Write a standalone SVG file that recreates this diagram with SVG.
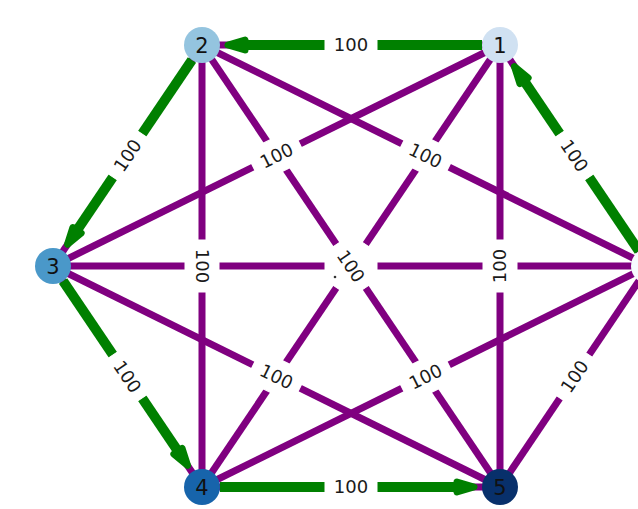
<svg xmlns="http://www.w3.org/2000/svg" width="638" height="509" viewBox="0 0 638 509">
<style>
.p{stroke:#800080;stroke-width:7;fill:none}
.g{stroke:#008000;stroke-width:10;fill:none;marker-end:url(#ah)}
.lb rect{fill:#fff;stroke:#fff}
.lb text{font-family:"DejaVu Sans",sans-serif;font-size:18px;fill:#1a1a1a;text-anchor:middle}
.nd text{font-family:"DejaVu Sans",sans-serif;font-size:21px;fill:#111;text-anchor:middle}
</style>
<defs>
<marker id="ah" markerUnits="userSpaceOnUse" orient="auto" refX="0" refY="0" markerWidth="30" markerHeight="24" viewBox="-6 -12 30 24" overflow="visible">
<path d="M0,-5 L17,0 L0,5 Z" fill="#008000" stroke="#008000" stroke-width="7" stroke-linejoin="round"/>
</marker>
</defs>
<rect width="638" height="509" fill="#fff"/>
<g id="connectors">
<line class="p" x1="500" y1="45" x2="202" y2="45"/>
<line class="p" x1="500" y1="45" x2="53" y2="266"/>
<line class="p" x1="500" y1="45" x2="202" y2="487"/>
<line class="p" x1="500" y1="45" x2="500" y2="487"/>
<line class="p" x1="500" y1="45" x2="649" y2="266"/>
<line class="p" x1="202" y1="45" x2="53" y2="266"/>
<line class="p" x1="202" y1="45" x2="202" y2="487"/>
<line class="p" x1="202" y1="45" x2="500" y2="487"/>
<line class="p" x1="202" y1="45" x2="649" y2="266"/>
<line class="p" x1="53" y1="266" x2="202" y2="487"/>
<line class="p" x1="53" y1="266" x2="500" y2="487"/>
<line class="p" x1="53" y1="266" x2="649" y2="266"/>
<line class="p" x1="202" y1="487" x2="500" y2="487"/>
<line class="p" x1="202" y1="487" x2="649" y2="266"/>
<line class="p" x1="500" y1="487" x2="649" y2="266"/>
<line class="g" x1="482" y1="45" x2="245" y2="45"/>
<line class="g" x1="191.94" y1="59.93" x2="77.0" y2="230.3"/>
<line class="g" x1="63.06" y1="280.93" x2="178.0" y2="451.3"/>
<line class="g" x1="220" y1="487" x2="457" y2="487"/>
<line class="g" x1="638.94" y1="251.07" x2="524.0" y2="80.7"/>
</g>
<g id="labels">
<g class="lb" transform="translate(351,45)"><rect x="-26" y="-17" width="52" height="34" rx="6"/><text dy="0.36em">100</text></g>
<g class="lb" transform="translate(127.5,155.5) rotate(-56)"><rect x="-26" y="-17" width="52" height="34" rx="6"/><text dy="0.36em">100</text></g>
<g class="lb" transform="translate(127.5,376.5) rotate(56)"><rect x="-26" y="-17" width="52" height="34" rx="6"/><text dy="0.36em">100</text></g>
<g class="lb" transform="translate(351,487)"><rect x="-26" y="-17" width="52" height="34" rx="6"/><text dy="0.36em">100</text></g>
<g class="lb" transform="translate(574.5,376.5) rotate(-56)"><rect x="-26" y="-17" width="52" height="34" rx="6"/><text dy="0.36em">100</text></g>
<g class="lb" transform="translate(574.5,155.5) rotate(56)"><rect x="-26" y="-17" width="52" height="34" rx="6"/><text dy="0.36em">100</text></g>
<g class="lb" transform="translate(276.5,155.5) rotate(-26.3)"><rect x="-26" y="-17" width="52" height="34" rx="6"/><text dy="0.36em">100</text></g>
<g class="lb" transform="translate(425.5,155.5) rotate(26.3)"><rect x="-26" y="-17" width="52" height="34" rx="6"/><text dy="0.36em">100</text></g>
<g class="lb" transform="translate(276.5,376.5) rotate(26.3)"><rect x="-26" y="-17" width="52" height="34" rx="6"/><text dy="0.36em">100</text></g>
<g class="lb" transform="translate(425.5,376.5) rotate(-26.3)"><rect x="-26" y="-17" width="52" height="34" rx="6"/><text dy="0.36em">100</text></g>
<g class="lb" transform="translate(202,266) rotate(90)"><rect x="-26" y="-17" width="52" height="34" rx="6"/><text dy="0.36em">100</text></g>
<g class="lb" transform="translate(500,266) rotate(-90)"><rect x="-26" y="-17" width="52" height="34" rx="6"/><text dy="0.36em">100</text></g>
<g class="lb" transform="translate(351,266)"><rect x="-26" y="-17" width="52" height="34" rx="6"/></g>
<g class="lb" transform="translate(351,266) rotate(-56)"><rect x="-26" y="-17" width="52" height="34" rx="6"/></g>
<g class="lb" transform="translate(351,266) rotate(56)"><rect x="-26" y="-17" width="52" height="34" rx="6"/><text dy="0.36em">100</text></g>
<circle cx="335" cy="277" r="1.3" fill="#333"/>
</g>
<g id="node1" class="nd"><circle cx="500" cy="45" r="18" fill="#d0e1f2"/><text x="500" y="45" dy="0.36em">1</text></g>
<g id="node2" class="nd"><circle cx="202" cy="45" r="18" fill="#94c4df"/><text x="202" y="45" dy="0.36em">2</text></g>
<g id="node3" class="nd"><circle cx="53" cy="266" r="18" fill="#4a98c9"/><text x="53" y="266" dy="0.36em">3</text></g>
<g id="node4" class="nd"><circle cx="202" cy="487" r="18" fill="#1764ab"/><text x="202" y="487" dy="0.36em">4</text></g>
<g id="node5" class="nd"><circle cx="500" cy="487" r="18" fill="#08306b"/><text x="500" y="487" dy="0.36em">5</text></g>
<g id="node6" class="nd"><circle cx="649" cy="266" r="18" fill="#f7fbff"/></g>
</svg>
